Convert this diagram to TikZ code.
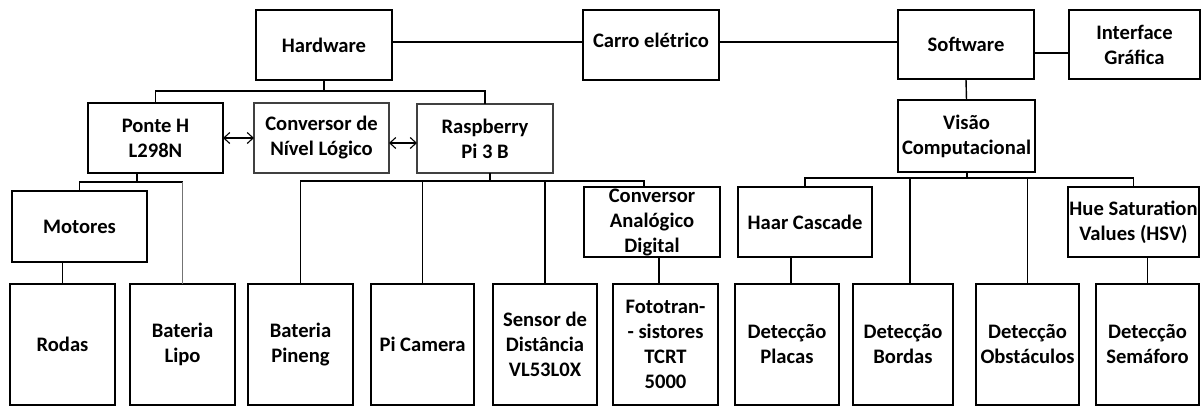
\documentclass[tikz,border=0pt]{standalone}
\usepackage{fontspec}
\setmainfont{Carlito}
\usetikzlibrary{calc,arrows.meta}
\tikzset{
  box/.style={draw=black, line width=1.6pt, inner sep=0pt, outer sep=0pt, align=center,
    font=\fontsize{20.6}{25}\selectfont\bfseries},
  lightbox/.style={box, draw=black!75, line width=1.3pt},
  conn/.style={draw=black, line width=1.4pt},
  thinconn/.style={draw=black!55, line width=1pt},
  dbl/.style={conn, line width=1.1pt, {Straight Barb[length=6pt,width=11pt]}-{Straight Barb[length=6pt,width=11pt]}},
}
\begin{document}
\begin{tikzpicture}[x=1pt, y=-1pt]
\useasboundingbox (0,0) rectangle (1203,407);
% top row
\node[box, minimum width=136pt, minimum height=70pt] (hw) at (324,45) {Hardware};
\node[box, minimum width=136pt, minimum height=70pt] (carro) at (651,45) {Carro elétrico\\[-15pt]\mbox{}};
\node[box, minimum width=136pt, minimum height=69pt] (sw) at (966,44.5) {Software};
\node[box, minimum width=131pt, minimum height=69pt] (gui) at (1134.5,44.5) {Interface\\Gráfica};
% second row
\node[box, minimum width=137pt, minimum height=72pt] (visao) at (966.5,136) {Visão\\Computacional};
\node[box, minimum width=135pt, minimum height=70pt] (ponte) at (155.5,138) {Ponte H\\L298N};
\node[lightbox, minimum width=135pt, minimum height=70pt] (cnl) at (321.5,138) {Conversor de\\Nível Lógico};
\node[lightbox, minimum width=136pt, minimum height=69pt] (rpi) at (485,138.5) {Raspberry\\Pi 3 B};
% third row
\node[box, minimum width=135pt, minimum height=71pt] (motores) at (79.5,226.5) {Motores};
\node[box, minimum width=136pt, minimum height=70pt] (cad) at (652,222) {Conversor\\Analógico\\Digital};
\node[box, minimum width=134pt, minimum height=70pt] (haar) at (805,222) {Haar Cascade};
\node[box, minimum width=131pt, minimum height=70pt] (hsv) at (1133.5,222) {Hue Saturation\\Values (HSV)};
% bottom row
\node[box, minimum width=105pt, minimum height=121pt] (rodas) at (62.5,344.5) {Rodas};
\node[box, minimum width=105pt, minimum height=121pt] (lipo) at (182.5,344.5) {Bateria\\Lipo};
\node[box, minimum width=105pt, minimum height=121pt] (pineng) at (300.5,344.5) {Bateria\\Pineng};
\node[box, minimum width=103pt, minimum height=121pt] (picam) at (422.5,344.5) {Pi Camera};
\node[box, minimum width=104pt, minimum height=121pt] (sensor) at (545,344.5) {Sensor de\\Distância\\VL53L0X};
\node[box, minimum width=105pt, minimum height=121pt] (foto) at (665.5,344.5) {Fototran-\\- sistores\\TCRT\\5000};
\node[box, minimum width=104pt, minimum height=121pt] (placas) at (787,344.5) {Detecção\\Placas};
\node[box, minimum width=100pt, minimum height=121pt] (bordas) at (903,344.5) {Detecção\\Bordas};
\node[box, minimum width=103pt, minimum height=121pt] (obst) at (1027.5,344.5) {Detecção\\Obstáculos};
\node[box, minimum width=103pt, minimum height=121pt] (sema) at (1147.5,344.5) {Detecção\\Semáforo};
% bus points
\coordinate (hb) at (324,91);
\coordinate (pb) at (137,182);
\coordinate (rb) at (490,181);
\coordinate (cadin) at (644,181);
\coordinate (fotoin) at (659,270);
\coordinate (vb) at (967,178);
\coordinate (bordin) at (910,178);
\coordinate (placin) at (791,270);
% top connectors
\draw[conn] ([yshift=3pt]hw.east) -- ([yshift=3pt]hw.east -| carro.west);
\draw[conn] ([yshift=3pt]carro.east) -- ([yshift=3pt]carro.east -| sw.west);
\draw[conn] ([yshift=-8.5pt]sw.east) -- ([yshift=-8.5pt]sw.east -| gui.west);
\draw[conn] (sw.south) -- (visao.north);
% hardware tree
\draw[conn] (hw.south) -- (hb);
\draw[conn] (ponte.north) |- (hb) -| (rpi.north);
\draw[dbl] (ponte.east) -- (cnl.west);
\draw[dbl] ([yshift=-5pt]cnl.east) -- ([yshift=-5pt]cnl.east -| rpi.west);
% ponte tree
\draw[conn] (ponte.south -| pb) -- (pb);
\draw[conn] (motores.north) |- (pb) -- (pb -| lipo.north);
\draw[thinconn] (pb -| lipo.north) -- (lipo.north);
\draw[conn] (rodas.north) -- (rodas.north |- motores.south);
% raspberry tree
\draw[conn] (rpi.south -| rb) -- (rb);
\draw[conn] (pineng.north) |- (rb) -- (cadin) -- (cadin |- cad.north);
\draw[conn] (picam.north) -- (picam.north |- rb);
\draw[conn] (sensor.north) -- (sensor.north |- rb);
\draw[conn] (cad.south -| fotoin) -- (fotoin |- foto.north);
% vision tree
\draw[conn] (visao.south -| vb) -- (vb);
\draw[conn] (haar.north) |- (vb) -| (hsv.north);
\draw[conn] (bordin) -- (bordin |- bordas.north);
\draw[conn] (obst.north) -- (obst.north |- vb);
\draw[conn] (haar.south -| placin) -- (placin |- placas.north);
\draw[conn] (sema.north) -- (sema.north |- hsv.south);
\end{tikzpicture}
\end{document}
